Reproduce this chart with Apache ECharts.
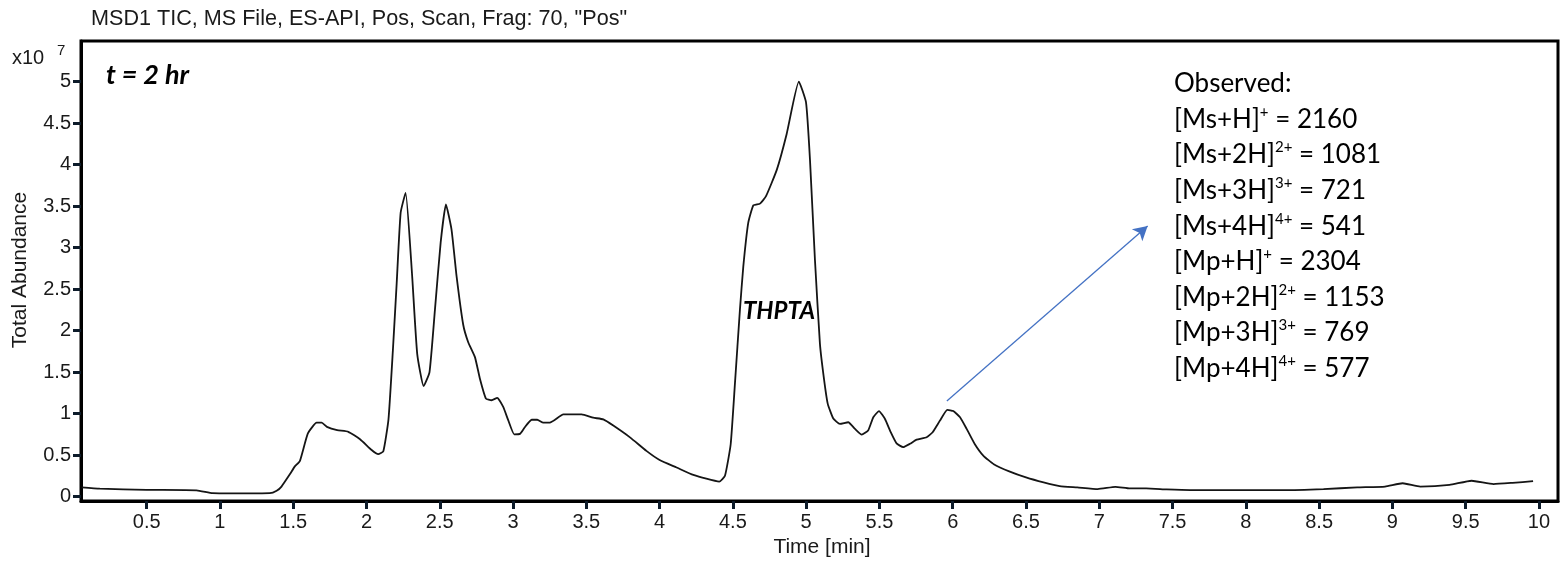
<!DOCTYPE html>
<html>
<head>
<meta charset="utf-8">
<script src="https://cdn.jsdelivr.net/npm/echarts@6/dist/echarts.min.js"></script>
<style>html,body{margin:0;padding:0;background:#fff}#c{width:1563px;height:562px}</style>
</head>
<body>
<div id="c"></div>
<script>
const times = [0.057,0.18,0.50,0.84,0.95,1.09,1.34,1.387,1.42,1.478,
1.51,1.546,1.60,1.66,1.694,1.73,1.80,1.876,1.956,2.035,
2.08,2.115,2.15,2.18,2.206,2.233,2.267,2.31,2.346,2.39,
2.43,2.467,2.506,2.542,2.58,2.615,2.66,2.694,2.74,2.774,
2.815,2.854,2.892,2.933,2.967,3.008,3.047,3.08,3.127,3.165,
3.206,3.247,3.286,3.343,3.468,3.547,3.616,3.684,3.80,3.91,
4.0,4.116,4.23,4.407,4.446,4.485,4.514,4.548,4.571,4.605,
4.64,4.685,4.726,4.80,4.867,4.95,4.999,5.026,5.06,5.094,
5.12,5.147,5.185,5.23,5.287,5.333,5.379,5.424,5.458,5.497,
5.538,5.577,5.617,5.662,5.708,5.754,5.822,5.863,5.913,5.963,
6.004,6.05,6.095,6.15,6.21,6.28,6.39,6.50,6.62,6.73,
6.85,6.99,7.11,7.21,7.32,7.46,7.62,7.87,8.10,8.26,
8.53,8.76,8.95,9.07,9.19,9.39,9.54,9.69,9.82,9.96];
const abundance = [0.11,0.095,0.08,0.075,0.04,0.037,0.04,0.07,0.12,0.27,
0.36,0.43,0.76,0.89,0.89,0.84,0.80,0.78,0.69,0.56,
0.51,0.545,0.93,1.76,2.57,3.42,3.66,2.7,1.72,1.33,
1.50,2.25,3.06,3.52,3.22,2.65,2.07,1.86,1.68,1.42,
1.18,1.16,1.19,1.08,0.92,0.75,0.755,0.835,0.925,0.925,
0.89,0.89,0.925,0.99,0.99,0.95,0.93,0.855,0.71,0.55,
0.44,0.35,0.26,0.18,0.25,0.63,1.36,2.25,2.77,3.30,
3.51,3.53,3.62,3.94,4.37,5.0,4.75,4.06,2.85,1.84,
1.44,1.12,0.94,0.875,0.895,0.815,0.745,0.80,0.955,1.03,
0.935,0.775,0.64,0.595,0.635,0.685,0.715,0.775,0.915,1.045,
1.03,0.956,0.816,0.634,0.49,0.39,0.30,0.23,0.17,0.125,
0.11,0.09,0.117,0.097,0.097,0.085,0.077,0.077,0.077,0.077,
0.09,0.11,0.12,0.16,0.12,0.14,0.19,0.15,0.165,0.185];
const xTicks = [0.5,1,1.5,2,2.5,3,3.5,4,4.5,5,5.5,6,6.5,7,7.5,8,8.5,9,9.5,10];
const yTicks = [0,0.5,1,1.5,2,2.5,3,3.5,4,4.5,5];
const arrowFrom = [5.96, 1.15];
const arrowTo = [7.33, 3.26];
const observedLines = [
  'Observed:',
  '[Ms+H]{s|+} = 2160',
  '[Ms+2H]{s|2+} = 1081',
  '[Ms+3H]{s|3+} = 721',
  '[Ms+4H]{s|4+} = 541',
  '[Mp+H]{s|+} = 2304',
  '[Mp+2H]{s|2+} = 1153',
  '[Mp+3H]{s|3+} = 769',
  '[Mp+4H]{s|4+} = 577'
];

const chart = echarts.init(document.getElementById('c'));
const data = times.map((t, i) => [t, abundance[i]]);
const axisFont = 'Liberation Sans, Arial, sans-serif';
const tickColor = '#0d1b2a';

chart.setOption({
  animation: false,
  backgroundColor: '#fff',
  grid: { left: 81, right: 5, top: 41, bottom: 61, show: true, borderColor: '#000', borderWidth: 3, containLabel: false },
  xAxis: {
    type: 'value', min: 0.052, max: 10.13,
    axisLine: { show: true, onZero: false, lineStyle: { color: '#000', width: 3 } },
    axisTick: { show: true, inside: false, length: 8, customValues: xTicks, lineStyle: { color: tickColor, width: 3 } },
    axisLabel: { customValues: xTicks, color: '#1a1a1a', fontSize: 20, fontFamily: axisFont, margin: 11 },
    splitLine: { show: false }
  },
  yAxis: {
    type: 'value', min: -0.054, max: 5.49,
    axisLine: { show: true, onZero: false, lineStyle: { color: '#000', width: 3 } },
    axisTick: { show: true, inside: false, length: 8, customValues: yTicks, lineStyle: { color: tickColor, width: 3 } },
    axisLabel: { customValues: yTicks, color: '#1a1a1a', fontSize: 20, fontFamily: axisFont, margin: 10 },
    splitLine: { show: false }
  },
  series: [{
    type: 'line', data: data, showSymbol: false, smooth: 0.15,
    lineStyle: { color: '#151515', width: 1.8 },
    silent: true,
    markLine: {
      silent: true, symbol: ['none', 'arrow'], symbolSize: [12, 14],
      label: { show: false },
      lineStyle: { color: '#4472C4', width: 1.3, type: 'solid' },
      data: [[{ coord: arrowFrom }, { coord: arrowTo }]]
    }
  }],
  graphic: [
    { type: 'text', x: 91, y: 19, style: { text: 'MSD1 TIC, MS File, ES-API, Pos, Scan, Frag: 70, "Pos"', font: '21.6px ' + axisFont, fill: '#1a1a1a', verticalAlign: 'middle', align: 'left' } },
    { type: 'text', x: 12, y: 58, style: { text: 'x10', font: '20px ' + axisFont, fill: '#1a1a1a', verticalAlign: 'middle', align: 'left' } },
    { type: 'text', x: 57, y: 51, style: { text: '7', font: '15px ' + axisFont, fill: '#1a1a1a', verticalAlign: 'middle', align: 'left' } },
    { type: 'text', x: 20, y: 270, rotation: Math.PI / 2, style: { text: 'Total Abundance', font: '21px ' + axisFont, fill: '#1a1a1a', verticalAlign: 'middle', align: 'center' } },
    { type: 'text', x: 822, y: 547, style: { text: 'Time [min]', font: '21px ' + axisFont, fill: '#1a1a1a', verticalAlign: 'middle', align: 'center' } },
    { type: 'text', x: 106, y: 75, style: { text: 't = 2 hr', font: 'italic bold 27px Lato, sans-serif', fill: '#000', verticalAlign: 'middle', align: 'left' } },
    { type: 'text', x: 743, y: 311, style: { text: 'THPTA', font: 'italic bold 24px Lato, sans-serif', fill: '#000', verticalAlign: 'middle', align: 'left' } },
    { type: 'text', x: 1174, y: 66, style: {
        text: observedLines.join('\n'), font: '26px Lato, sans-serif', fill: '#000', lineHeight: 35.6,
        verticalAlign: 'top', align: 'left',
        rich: { s: { fontSize: 15, lineHeight: 15, padding: [0, 0, 15, 0], fill: '#000', fontFamily: 'Lato' } }
    } }
  ]
});
</script>
</body>
</html>
